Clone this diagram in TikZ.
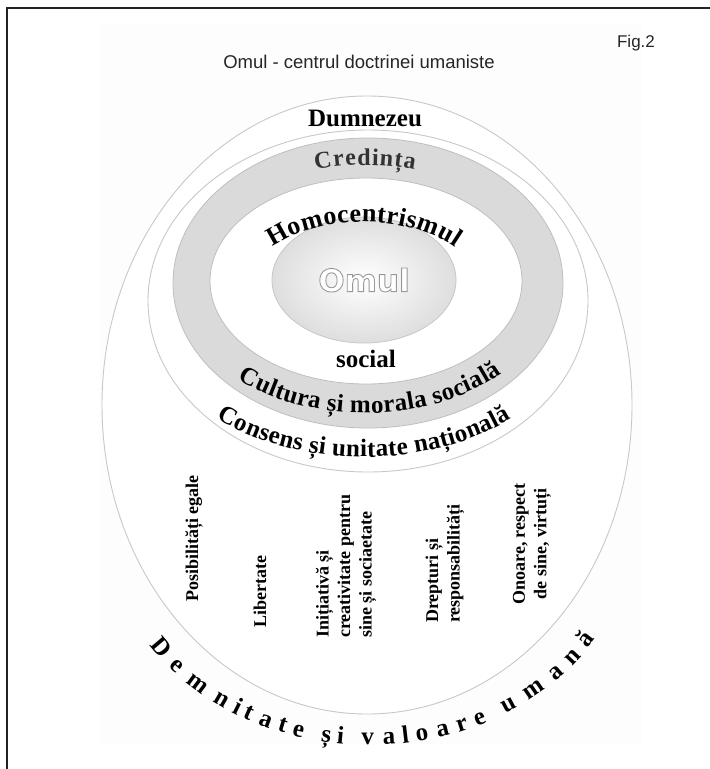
\documentclass[tikz,border=0pt]{standalone}
\usepackage{fontspec}
\setmainfont{Liberation Serif}
\newfontfamily\sansf{Liberation Sans}
\newfontfamily\roundf{DejaVu Sans}
\usetikzlibrary{decorations.text}
\definecolor{ringline}{HTML}{C8C8C8}
\definecolor{bandfill}{HTML}{DADADA}
\definecolor{bandline}{HTML}{BEBEBE}
\definecolor{framecol}{HTML}{222222}
\newcommand\outlinetext[1]{\special{pdf:literal direct 2 Tr 0.9 w 0.6 G}#1\special{pdf:literal direct 0 Tr}}
\begin{document}
\begin{tikzpicture}[x=1pt,y=1pt,
  ring/.style={draw=ringline, line width=0.9pt},
  vlabel/.style={rotate=90, inner sep=0pt, font=\bfseries\fontsize{18}{21.5}\selectfont},
  curved/.style n args={3}{decorate, decoration={text effects along path, text={#2},
     text effects/.cd, text along path, fit text to path,
     characters={font=\bfseries\fontsize{#1}{#1}\selectfont, text=#3, inner sep=0pt, outer sep=0pt}}},
  omulfont/.style={font=\roundf\bfseries\fontsize{31}{31}\selectfont, inner sep=0pt}
]
\useasboundingbox (0,0) rectangle (710,-769);
\fill[white] (0,0) rectangle (710,-769);
\fill[black!0.6] (100,-25) rectangle (642,-745);
\draw[framecol, line width=2.6pt] (7,-769) -- (7,-8) -- (710,-8);

% rings
\draw[ring, fill=white] (367,-405) ellipse [x radius=265, y radius=309];
\draw[ring, fill=white] (368,-301) ellipse [x radius=220, y radius=171];
\draw[draw=bandline, line width=0.8pt, fill=bandfill] (368,-283) ellipse [x radius=195, y radius=145];
\draw[draw=bandline, line width=0.8pt, fill=white] (366,-281) ellipse [x radius=156, y radius=103];
\shadedraw[draw=black!22, line width=0.8pt, inner color=white, outer color=black!13] (364,-280) ellipse [x radius=92, y radius=63];

% Omul, outlined letters
\node (omul) [omulfont, text=white] at (364,-280) {\outlinetext{Omul}};

% titles
\node (fig) [font=\sansf\fontsize{17}{17}\selectfont, text=black!85] at (636,-43) {Fig.2};
\node (title) [font=\sansf\fontsize{18.5}{18.5}\selectfont, text=black!85] at (359,-62) {Omul - centrul doctrinei umaniste};

% straight labels
\node (dum) [anchor=base, inner sep=0pt, font=\bfseries\fontsize{25}{25}\selectfont] at (365,-126) {Dumnezeu};
\node (soc) [anchor=base, inner sep=0pt, font=\bfseries\fontsize{25}{25}\selectfont] at (366,-367) {social};

% curved labels
\path[curved={24}{Credința}{black!80}] (365,-283) ++(106:180 and 118) arc[start angle=106,end angle=74,x radius=180,y radius=118];
\path[curved={26}{Homocentrismul}{black}] (363,-300) ++(137:124 and 78) arc[start angle=137,end angle=42,x radius=124,y radius=78];
\path[curved={25}{Cultura și morala socială}{black}] (365,-283) ++(228:190 and 130) arc[start angle=228,end angle=316,x radius=190,y radius=130];
\path[curved={25}{Consens și unitate națională}{black}] (364,-301) ++(229:225 and 156) arc[start angle=229,end angle=311,x radius=225,y radius=156];
\path[curved={25}{Demnitate și valoare umană}{black}] (370,-526) ++(213:263 and 219) arc[start angle=213,end angle=329,x radius=263,y radius=219];

% vertical labels
\node (pos) [vlabel, anchor=base west] at (198,-602) {Posibilități egale};
\node (lib) [vlabel, anchor=base west] at (266,-628) {Libertate};
\node (ini) [vlabel, anchor=west, align=left] at (346,-638) {Inițiativă și\\creativitate pentru\\sine și sociaetate};
\node (dre) [vlabel, anchor=west, align=left] at (445,-623) {Drepturi și\\responsabilități};
\node (ono) [vlabel, align=center] at (532,-544) {Onoare, respect\\de sine, virtuți};
\end{tikzpicture}
\end{document}
